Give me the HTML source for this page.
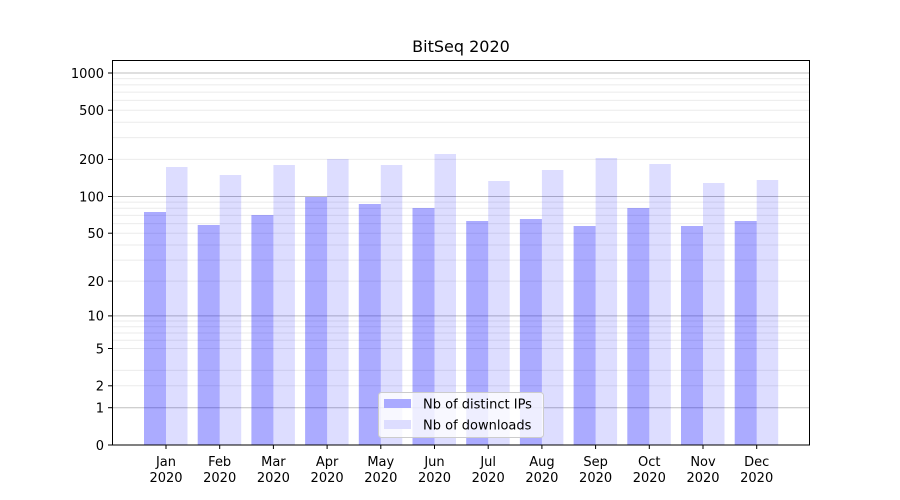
<!DOCTYPE html>
<html><head><meta charset="utf-8"><style>body{margin:0;background:#fff}svg{display:block}text{font-family:"DejaVu Sans","Liberation Sans",sans-serif;fill:#000}</style></head>
<body>
<svg width="900" height="500" viewBox="0 0 900 500" xmlns="http://www.w3.org/2000/svg">
<rect width="900" height="500" fill="#fff"/>
<g id="bars"></g>
<g stroke="#000" stroke-opacity="0.08" stroke-width="1">
<line x1="112" x2="810" y1="385.8" y2="385.8"/><line x1="112" x2="810" y1="370.4" y2="370.4"/><line x1="112" x2="810" y1="348.5" y2="348.5"/><line x1="112" x2="810" y1="340.2" y2="340.2"/><line x1="112" x2="810" y1="333" y2="333"/><line x1="112" x2="810" y1="326.7" y2="326.7"/><line x1="112" x2="810" y1="321" y2="321"/>
<line x1="112" x2="810" y1="281.1" y2="281.1"/><line x1="112" x2="810" y1="260.1" y2="260.1"/><line x1="112" x2="810" y1="245" y2="245"/><line x1="112" x2="810" y1="233.2" y2="233.2"/><line x1="112" x2="810" y1="223.6" y2="223.6"/><line x1="112" x2="810" y1="215.4" y2="215.4"/><line x1="112" x2="810" y1="208.3" y2="208.3"/><line x1="112" x2="810" y1="202.1" y2="202.1"/>
<line x1="112" x2="810" y1="159.4" y2="159.4"/><line x1="112" x2="810" y1="137.6" y2="137.6"/><line x1="112" x2="810" y1="122.2" y2="122.2"/><line x1="112" x2="810" y1="110.2" y2="110.2"/><line x1="112" x2="810" y1="100.4" y2="100.4"/><line x1="112" x2="810" y1="92.1" y2="92.1"/><line x1="112" x2="810" y1="84.9" y2="84.9"/><line x1="112" x2="810" y1="78.6" y2="78.6"/>
</g>
<g stroke="#000" stroke-opacity="0.25" stroke-width="1">
<line x1="112" x2="810" y1="407.7" y2="407.7"/><line x1="112" x2="810" y1="315.9" y2="315.9"/><line x1="112" x2="810" y1="196.5" y2="196.5"/><line x1="112" x2="810" y1="73" y2="73"/>
</g>
<g fill="#0000ff">
<rect x="144" y="212" width="22" height="233" fill-opacity="0.33"/><rect x="166" y="167" width="21.5" height="278" fill-opacity="0.135"/>
<rect x="197.7" y="225" width="22" height="220" fill-opacity="0.33"/><rect x="219.7" y="175" width="21.5" height="270" fill-opacity="0.135"/>
<rect x="251.4" y="215" width="22" height="230" fill-opacity="0.33"/><rect x="273.4" y="165" width="21.5" height="280" fill-opacity="0.135"/>
<rect x="305.1" y="197" width="22" height="248" fill-opacity="0.33"/><rect x="327.1" y="159" width="21.5" height="286" fill-opacity="0.135"/>
<rect x="358.8" y="204" width="22" height="241" fill-opacity="0.33"/><rect x="380.8" y="165" width="21.5" height="280" fill-opacity="0.135"/>
<rect x="412.5" y="208" width="22" height="237" fill-opacity="0.33"/><rect x="434.5" y="154" width="21.5" height="291" fill-opacity="0.135"/>
<rect x="466.2" y="221" width="22" height="224" fill-opacity="0.33"/><rect x="488.2" y="181" width="21.5" height="264" fill-opacity="0.135"/>
<rect x="519.9" y="219" width="22" height="226" fill-opacity="0.33"/><rect x="541.9" y="170" width="21.5" height="275" fill-opacity="0.135"/>
<rect x="573.6" y="226" width="22" height="219" fill-opacity="0.33"/><rect x="595.6" y="158" width="21.5" height="287" fill-opacity="0.135"/>
<rect x="627.3" y="208" width="22" height="237" fill-opacity="0.33"/><rect x="649.3" y="164" width="21.5" height="281" fill-opacity="0.135"/>
<rect x="681" y="226" width="22" height="219" fill-opacity="0.33"/><rect x="703" y="183" width="21.5" height="262" fill-opacity="0.135"/>
<rect x="734.7" y="221" width="22" height="224" fill-opacity="0.33"/><rect x="756.7" y="180" width="21.5" height="265" fill-opacity="0.135"/>
</g>
<rect x="112.5" y="60.5" width="697" height="384.5" fill="none" stroke="#000" stroke-width="1"/>
<g stroke="#000" stroke-width="1">
<line x1="108" x2="112" y1="445" y2="445"/><line x1="108" x2="112" y1="407.7" y2="407.7"/><line x1="108" x2="112" y1="385.8" y2="385.8"/><line x1="108" x2="112" y1="348.5" y2="348.5"/><line x1="108" x2="112" y1="315.9" y2="315.9"/><line x1="108" x2="112" y1="281.1" y2="281.1"/><line x1="108" x2="112" y1="233.2" y2="233.2"/><line x1="108" x2="112" y1="196.5" y2="196.5"/><line x1="108" x2="112" y1="159.4" y2="159.4"/><line x1="108" x2="112" y1="110.2" y2="110.2"/><line x1="108" x2="112" y1="73" y2="73"/>
<line x1="166" x2="166" y1="445" y2="449"/><line x1="219.7" x2="219.7" y1="445" y2="449"/><line x1="273.4" x2="273.4" y1="445" y2="449"/><line x1="327.1" x2="327.1" y1="445" y2="449"/><line x1="380.8" x2="380.8" y1="445" y2="449"/><line x1="434.5" x2="434.5" y1="445" y2="449"/><line x1="488.2" x2="488.2" y1="445" y2="449"/><line x1="541.9" x2="541.9" y1="445" y2="449"/><line x1="595.6" x2="595.6" y1="445" y2="449"/><line x1="649.3" x2="649.3" y1="445" y2="449"/><line x1="703" x2="703" y1="445" y2="449"/><line x1="756.7" x2="756.7" y1="445" y2="449"/>
</g>
<g font-size="13" text-anchor="end">
<text x="104" y="450">0</text><text x="104" y="412.5">1</text><text x="104" y="390.5">2</text><text x="104" y="353.5">5</text><text x="104" y="320.5">10</text><text x="104" y="286">20</text><text x="104" y="238">50</text><text x="104" y="201.5">100</text><text x="104" y="164">200</text><text x="104" y="115">500</text><text x="104" y="78">1000</text>
</g>
<g font-size="13" text-anchor="middle">
<text x="166" y="466">Jan</text><text x="166" y="482">2020</text>
<text x="219.7" y="466">Feb</text><text x="219.7" y="482">2020</text>
<text x="273.4" y="466">Mar</text><text x="273.4" y="482">2020</text>
<text x="327.1" y="466">Apr</text><text x="327.1" y="482">2020</text>
<text x="380.8" y="466">May</text><text x="380.8" y="482">2020</text>
<text x="434.5" y="466">Jun</text><text x="434.5" y="482">2020</text>
<text x="488.2" y="466">Jul</text><text x="488.2" y="482">2020</text>
<text x="541.9" y="466">Aug</text><text x="541.9" y="482">2020</text>
<text x="595.6" y="466">Sep</text><text x="595.6" y="482">2020</text>
<text x="649.3" y="466">Oct</text><text x="649.3" y="482">2020</text>
<text x="703" y="466">Nov</text><text x="703" y="482">2020</text>
<text x="756.7" y="466">Dec</text><text x="756.7" y="482">2020</text>
</g>
<text x="461" y="52" font-size="16" text-anchor="middle">BitSeq 2020</text>
<rect x="378.5" y="392.5" width="165" height="45" rx="3" fill="#fff" fill-opacity="0.8" stroke="#ccc"/>
<rect x="384" y="399" width="27" height="9" fill="#aaaaff"/>
<rect x="384" y="420" width="27" height="9" fill="#ddddff"/>
<text x="423" y="408.5" font-size="13">Nb of distinct IPs</text>
<text x="423" y="429.5" font-size="13">Nb of downloads</text>
</svg>
</body></html>
